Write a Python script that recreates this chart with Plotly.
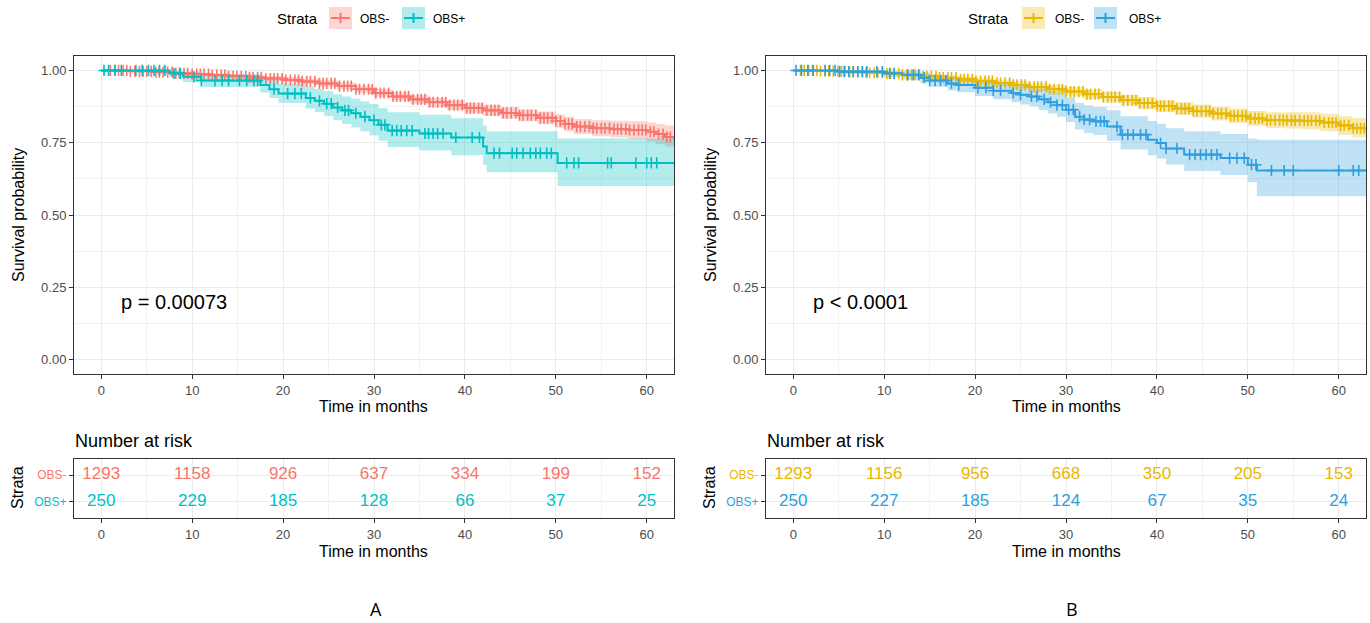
import numpy as np
import plotly.graph_objects as go

W, H = 1370, 623

# ---------------- data ----------------
# Panel A
A_neg_t = [0, 3, 6, 8, 10, 12, 14, 16, 18, 20, 22, 24, 26, 28, 30, 32, 34, 36, 38, 40, 42, 44, 46, 48, 50, 51, 52, 54, 56, 58, 60, 61, 62, 63]
A_neg_s = [1.0, 0.997, 0.994, 0.99, 0.987, 0.984, 0.98, 0.976, 0.972, 0.967, 0.962, 0.955, 0.946, 0.935, 0.922, 0.91, 0.9, 0.89, 0.88, 0.87, 0.862, 0.853, 0.845, 0.836, 0.825, 0.815, 0.806, 0.80, 0.797, 0.794, 0.788, 0.78, 0.77, 0.76]
A_neg_lo = [1.0, 0.994, 0.990, 0.985, 0.981, 0.977, 0.973, 0.968, 0.963, 0.958, 0.952, 0.944, 0.935, 0.923, 0.909, 0.896, 0.885, 0.874, 0.863, 0.852, 0.843, 0.833, 0.824, 0.814, 0.802, 0.79, 0.78, 0.772, 0.768, 0.763, 0.755, 0.745, 0.737, 0.73]
A_neg_hi = [1.0, 1.0, 0.998, 0.995, 0.993, 0.991, 0.987, 0.984, 0.981, 0.977, 0.972, 0.966, 0.958, 0.947, 0.935, 0.924, 0.915, 0.906, 0.897, 0.888, 0.881, 0.873, 0.866, 0.858, 0.848, 0.84, 0.832, 0.828, 0.826, 0.824, 0.82, 0.815, 0.81, 0.805]
A_neg_cens = [1.0, 1.5, 1.9, 2.4, 2.8, 3.2, 3.7, 4.2, 4.6, 5.0, 5.5, 6.0, 6.4, 6.8, 7.3, 7.8, 8.2, 8.6, 9.1, 9.5, 10.0, 10.5, 10.9, 11.3, 11.8, 12.2, 12.7, 13.2, 13.6, 14.0, 14.5, 14.9, 15.4, 15.9, 16.3, 16.7, 17.2, 17.6, 18.1, 18.6, 19.0, 19.4, 19.9, 20.3, 20.8, 21.3, 21.7, 22.1, 22.6, 23.0, 23.5, 24.0, 24.4, 24.8, 25.3, 25.7, 26.2, 26.7, 27.1, 27.5, 28.0, 28.4, 28.9, 29.4, 29.8, 30.2, 30.7, 31.1, 31.6, 32.1, 32.5, 32.9, 33.4, 33.8, 34.3, 34.8, 35.2, 35.6, 36.1, 36.5, 37.0, 37.5, 37.9, 38.3, 38.8, 39.2, 39.7, 40.2, 40.6, 41.0, 41.5, 41.9, 42.4, 42.9, 43.3, 43.7, 44.2, 44.6, 45.1, 45.6, 46.0, 46.4, 46.9, 47.3, 47.8, 48.3, 48.7, 49.1, 49.6, 50.0, 50.5, 51.0, 51.4, 51.8, 52.3, 52.7, 53.2, 53.7, 54.1, 54.5, 55.0, 55.4, 55.9, 56.4, 56.8, 57.2, 57.7, 58.1, 58.6, 59.1, 59.5, 59.9, 60.4, 60.8, 61.3, 61.8, 62.2, 62.6]

A_pos_t = [0, 7.5, 9, 11, 17.5, 18.5, 19.5, 22.5, 23.5, 24.5, 25.5, 26.5, 27.5, 28.5, 29.5, 30.5, 31.5, 35, 38.5, 42.0, 42.4, 50.2, 63]
A_pos_s = [1.0, 0.99, 0.978, 0.965, 0.95, 0.935, 0.92, 0.905, 0.895, 0.885, 0.872, 0.862, 0.852, 0.84, 0.828, 0.812, 0.792, 0.782, 0.768, 0.737, 0.714, 0.68, 0.68]
A_pos_lo = [1.0, 0.978, 0.96, 0.943, 0.924, 0.905, 0.887, 0.868, 0.856, 0.843, 0.828, 0.815, 0.803, 0.789, 0.775, 0.757, 0.735, 0.723, 0.707, 0.674, 0.648, 0.6, 0.6]
A_pos_hi = [1.0, 1.0, 0.996, 0.988, 0.977, 0.966, 0.955, 0.944, 0.936, 0.928, 0.918, 0.91, 0.902, 0.893, 0.884, 0.87, 0.855, 0.847, 0.835, 0.81, 0.79, 0.765, 0.765]
A_pos_cens = [0.3, 0.8, 1.5, 2.2, 3.8, 4.5, 5.2, 5.8, 6.4, 7.0, 8.0, 8.7, 10.2, 11.0, 12.5, 13.3, 14.0, 15.2, 16.0, 16.8, 17.2, 19.0, 20.5, 21.3, 22.0, 23.0, 24.0, 24.8, 25.3, 26.0, 26.8, 27.2, 28.0, 29.0, 30.0, 30.8, 31.2, 32.0, 32.5, 33.0, 33.6, 34.2, 35.6, 36.0, 36.5, 37.0, 37.6, 39.0, 40.8, 41.6, 43.2, 43.8, 45.2, 45.7, 46.4, 47.2, 47.8, 48.3, 49.0, 49.5, 51.2, 52.0, 52.5, 55.7, 56.1, 58.8, 60.0, 60.5, 61.1]

# Panel B
B_neg_t = [0, 3, 6, 8, 10, 12, 14, 16, 18, 20, 22, 24, 26, 28, 30, 32, 34, 36, 38, 40, 42, 44, 46, 48, 50, 52, 54, 56, 58, 60, 61.5, 63]
B_neg_s = [1.0, 0.998, 0.995, 0.992, 0.989, 0.985, 0.98, 0.975, 0.969, 0.963, 0.957, 0.95, 0.943, 0.935, 0.927, 0.918, 0.908, 0.897, 0.887, 0.877, 0.868, 0.859, 0.851, 0.843, 0.834, 0.828, 0.827, 0.826, 0.82, 0.81, 0.8, 0.795]
B_neg_lo = [1.0, 0.996, 0.991, 0.987, 0.983, 0.978, 0.972, 0.966, 0.959, 0.952, 0.945, 0.937, 0.929, 0.92, 0.911, 0.901, 0.89, 0.878, 0.867, 0.856, 0.846, 0.836, 0.827, 0.818, 0.808, 0.801, 0.799, 0.797, 0.79, 0.778, 0.768, 0.762]
B_neg_hi = [1.0, 1.0, 0.999, 0.997, 0.995, 0.992, 0.988, 0.984, 0.979, 0.974, 0.969, 0.963, 0.957, 0.95, 0.943, 0.935, 0.926, 0.916, 0.907, 0.898, 0.89, 0.882, 0.875, 0.868, 0.86, 0.855, 0.855, 0.855, 0.85, 0.842, 0.836, 0.834]
B_neg_cens = [0.8, 1.2, 1.7, 2.1, 2.6, 3.0, 3.5, 3.9, 4.4, 4.9, 5.3, 5.7, 6.2, 6.6, 7.1, 7.6, 8.0, 8.4, 8.9, 9.3, 9.8, 10.3, 10.7, 11.1, 11.6, 12.0, 12.5, 13.0, 13.4, 13.8, 14.3, 14.7, 15.2, 15.7, 16.1, 16.5, 17.0, 17.4, 17.9, 18.4, 18.8, 19.2, 19.7, 20.1, 20.6, 21.1, 21.5, 21.9, 22.4, 22.8, 23.3, 23.8, 24.2, 24.6, 25.1, 25.5, 26.0, 26.5, 26.9, 27.3, 27.8, 28.2, 28.7, 29.2, 29.6, 30.0, 30.5, 30.9, 31.4, 31.9, 32.3, 32.7, 33.2, 33.6, 34.1, 34.6, 35.0, 35.4, 35.9, 36.3, 36.8, 37.3, 37.7, 38.1, 38.6, 39.0, 39.5, 40.0, 40.4, 40.8, 41.3, 41.7, 42.2, 42.7, 43.1, 43.5, 44.0, 44.4, 44.9, 45.4, 45.8, 46.2, 46.7, 47.1, 47.6, 48.1, 48.5, 48.9, 49.4, 49.8, 50.3, 50.8, 51.2, 51.6, 52.1, 52.5, 53.0, 53.5, 53.9, 54.3, 54.8, 55.2, 55.7, 56.2, 56.6, 57.0, 57.5, 57.9, 58.4, 58.9, 59.3, 59.7, 60.2, 60.6, 61.1, 61.6, 62.0, 62.4, 62.8]

B_pos_t = [0, 5, 10, 12, 14, 15, 17, 18, 20, 22, 24, 25, 26, 27, 28, 29, 30, 31, 32, 33, 34.5, 36, 39, 40, 41, 43, 47, 50, 51, 63]
B_pos_s = [1.0, 0.996, 0.99, 0.985, 0.975, 0.965, 0.955, 0.95, 0.94, 0.93, 0.922, 0.916, 0.91, 0.9, 0.89, 0.88, 0.864, 0.84, 0.83, 0.824, 0.806, 0.778, 0.76, 0.749, 0.73, 0.709, 0.697, 0.674, 0.654, 0.654]
B_pos_lo = [1.0, 0.988, 0.977, 0.969, 0.956, 0.944, 0.931, 0.925, 0.912, 0.9, 0.89, 0.882, 0.875, 0.863, 0.851, 0.84, 0.822, 0.796, 0.784, 0.777, 0.757, 0.727, 0.707, 0.695, 0.675, 0.652, 0.638, 0.613, 0.565, 0.565]
B_pos_hi = [1.0, 1.0, 1.0, 0.999, 0.993, 0.985, 0.978, 0.975, 0.968, 0.96, 0.954, 0.95, 0.945, 0.937, 0.929, 0.921, 0.907, 0.887, 0.879, 0.874, 0.862, 0.842, 0.825, 0.816, 0.8, 0.79, 0.78, 0.765, 0.76, 0.76]
B_pos_cens = [0.3, 0.9, 1.6, 2.2, 3.5, 4.0, 4.6, 5.1, 5.6, 6.1, 6.6, 7.1, 7.6, 8.1, 9.2, 9.8, 10.6, 11.1, 12.6, 13.2, 13.8, 14.4, 15.0, 15.6, 16.2, 16.8, 17.4, 18.2, 20.3, 21.2, 22.0, 22.8, 24.2, 25.0, 26.2, 26.8, 27.6, 28.3, 29.0, 29.6, 30.3, 30.8, 31.5, 32.0, 32.6, 33.3, 33.8, 34.2, 35.6, 36.2, 36.8, 37.4, 38.2, 38.8, 40.4, 41.0, 42.2, 43.6, 44.2, 44.8, 45.4, 46.0, 46.6, 48.0, 48.8, 49.6, 50.4, 50.9, 52.6, 54.0, 55.0, 60.0, 61.6, 62.2]

# Number at risk
risk_times = [0, 10, 20, 30, 40, 50, 60]
A_risk_neg = [1293, 1158, 926, 637, 334, 199, 152]
A_risk_pos = [250, 229, 185, 128, 66, 37, 25]
B_risk_neg = [1293, 1156, 956, 668, 350, 205, 153]
B_risk_pos = [250, 227, 185, 124, 67, 35, 24]

strata = ["OBS-", "OBS+"]
x_ticks = [0, 10, 20, 30, 40, 50, 60]
y_ticks = [0, 0.25, 0.5, 0.75, 1.0]

# ---------------- styles ----------------
RED, TEAL = "#F8766D", "#00BFC4"
YEL, BLUE = "#E7B800", "#2E9FDF"
def rgba(hexc, a):
    hexc = hexc.lstrip("#")
    r, g, b = int(hexc[0:2], 16), int(hexc[2:4], 16), int(hexc[4:6], 16)
    return f"rgba({r},{g},{b},{a})"

FONT = "Liberation Sans, Arial, sans-serif"

def px(x):
    return x / W
def py(y):
    return 1 - y / H

fig = go.Figure()

def add_group(t, s, lo, hi, cens, color, xa, ya):
    fig.add_trace(go.Scatter(x=t, y=hi, mode="lines", line=dict(width=0, shape="hv"),
                             xaxis=xa, yaxis=ya, showlegend=False, hoverinfo="skip"))
    fig.add_trace(go.Scatter(x=t, y=lo, mode="lines", line=dict(width=0, shape="hv"),
                             fill="tonexty", fillcolor=rgba(color, 0.3),
                             xaxis=xa, yaxis=ya, showlegend=False, hoverinfo="skip"))

def add_line(t, s, cens, color, xa, ya):
    fig.add_trace(go.Scatter(x=t, y=s, mode="lines", line=dict(width=2, color=color, shape="hv"),
                             xaxis=xa, yaxis=ya, showlegend=False))
    ta = np.array(t)
    idx = np.searchsorted(ta, np.array(cens), side="right") - 1
    cy = np.array(s)[idx]
    fig.add_trace(go.Scatter(x=cens, y=cy, mode="markers",
                             marker=dict(symbol="cross-thin", size=8, color=color,
                                         line=dict(width=1.6, color=color)),
                             xaxis=xa, yaxis=ya, showlegend=False))

# panel A
add_group(A_neg_t, A_neg_s, A_neg_lo, A_neg_hi, A_neg_cens, RED, "x", "y")
add_group(A_pos_t, A_pos_s, A_pos_lo, A_pos_hi, A_pos_cens, TEAL, "x", "y")
add_line(A_neg_t, A_neg_s, A_neg_cens, RED, "x", "y")
add_line(A_pos_t, A_pos_s, A_pos_cens, TEAL, "x", "y")
# panel B
add_group(B_neg_t, B_neg_s, B_neg_lo, B_neg_hi, B_neg_cens, YEL, "x3", "y3")
add_group(B_pos_t, B_pos_s, B_pos_lo, B_pos_hi, B_pos_cens, BLUE, "x3", "y3")
add_line(B_neg_t, B_neg_s, B_neg_cens, YEL, "x3", "y3")
add_line(B_pos_t, B_pos_s, B_pos_cens, BLUE, "x3", "y3")

# risk tables
for vals, row, color, xa, ya in [
    (A_risk_neg, 2, RED, "x2", "y2"), (A_risk_pos, 1, TEAL, "x2", "y2"),
    (B_risk_neg, 2, YEL, "x4", "y4"), (B_risk_pos, 1, BLUE, "x4", "y4")]:
    fig.add_trace(go.Scatter(x=risk_times, y=[row] * len(risk_times), mode="text",
                             text=[str(v) for v in vals],
                             textfont=dict(size=17, color=color, family=FONT),
                             textposition="middle center",
                             xaxis=xa, yaxis=ya, showlegend=False))

# ---------------- axes ----------------
A_X = [px(74), px(674)]
B_X = [px(766), px(1366)]
MAIN_Y = [py(374), py(56)]
RISK_Y = [py(518), py(459)]

common = dict(showline=True, mirror=True, linecolor="#333333", linewidth=1,
              ticks="outside", ticklen=4, tickcolor="#333333", tickwidth=1,
              tickfont=dict(size=13, color="#4D4D4D", family=FONT),
              showgrid=True, gridcolor="#EBEBEB", gridwidth=1, zeroline=False)

def xax(domain, anchor):
    return dict(common, domain=domain, anchor=anchor, range=[-3, 63],
                tickmode="array", tickvals=x_ticks, ticktext=[str(v) for v in x_ticks],
                minor=dict(dtick=5, tick0=0, showgrid=True, gridcolor="#F2F2F2", gridwidth=0.6))

def ymain(domain, anchor):
    return dict(common, domain=domain, anchor=anchor, range=[-0.05, 1.05],
                tickmode="array", tickvals=y_ticks, ticktext=[f"{v:.2f}" for v in y_ticks],
                minor=dict(dtick=0.125, tick0=0, showgrid=True, gridcolor="#F2F2F2", gridwidth=0.6))

def yrisk(domain, anchor, c1, c2):
    return dict(common, domain=domain, anchor=anchor, range=[0.4, 2.6],
                tickmode="array", tickvals=[2, 1],
                ticktext=[f"<span style='color:{c1}'>{strata[0]}</span>",
                          f"<span style='color:{c2}'>{strata[1]}</span>"],
                tickfont=dict(size=12, family=FONT))

fig.update_layout(
    width=W, height=H, margin=dict(l=0, r=0, t=0, b=0),
    paper_bgcolor="white", plot_bgcolor="white",
    font=dict(family=FONT),
    xaxis=xax(A_X, "y"), yaxis=ymain(MAIN_Y, "x"),
    xaxis2=xax(A_X, "y2"), yaxis2=yrisk(RISK_Y, "x2", RED, TEAL),
    xaxis3=xax(B_X, "y3"), yaxis3=ymain(MAIN_Y, "x3"),
    xaxis4=xax(B_X, "y4"), yaxis4=yrisk(RISK_Y, "x4", YEL, BLUE),
)

ann = []
shapes = []
def text(x, y, s, size, color="black", xanchor="center", angle=0, family=FONT):
    ann.append(dict(x=px(x), y=py(y), xref="paper", yref="paper", text=s, showarrow=False,
                    xanchor=xanchor, yanchor="middle", textangle=angle,
                    font=dict(size=size, color=color, family=family)))

for (x0, x1, xtick0, c1, c2, pv, lab, labx, leg) in [
        (74, 674, "x", RED, TEAL, "p = 0.00073", "A", 376, (320, 329, 358, 402, 431)),
        (766, 1366, "x3", YEL, BLUE, "p < 0.0001", "B", 1072, (1011, 1022, 1053, 1094, 1127))]:
    xc = (x0 + x1) / 2
    text(xc, 406, "Time in months", 16)
    text(xc, 551, "Time in months", 16)
    text(x0 - 56, 215, "Survival probability", 16, angle=-90)
    text(x0 - 56, 488, "Strata", 16, angle=-90)
    ann.append(dict(x=px(x0 - 1), y=py(441), xref="paper", yref="paper", text="Number at risk",
                    showarrow=False, xanchor="left", yanchor="middle",
                    font=dict(size=18, color="black", family=FONT)))
    ann.append(dict(x=1.9, y=0.2, xref=xtick0, yref="y" if xtick0 == "x" else "y3", text=pv,
                    showarrow=False, xanchor="left", yanchor="middle",
                    font=dict(size=20, color="black", family=FONT)))
    text(labx, 609, lab, 18, family="Open Sans, Liberation Sans, sans-serif")
    t_end, k1, l1, k2, l2 = leg
    ann.append(dict(x=px(t_end), y=py(19), xref="paper", yref="paper", text="Strata",
                    showarrow=False, xanchor="right", yanchor="middle",
                    font=dict(size=15, color="black", family=FONT)))
    for kx, lx, col, name in [(k1, l1, c1, strata[0]), (k2, l2, c2, strata[1])]:
        shapes.append(dict(type="rect", xref="paper", yref="paper",
                           x0=px(kx), x1=px(kx + 23), y0=py(29), y1=py(7),
                           fillcolor=rgba(col, 0.3), line=dict(width=0)))
        shapes.append(dict(type="line", xref="paper", yref="paper",
                           x0=px(kx + 2), x1=px(kx + 21), y0=py(18), y1=py(18),
                           line=dict(color=col, width=2)))
        shapes.append(dict(type="line", xref="paper", yref="paper",
                           x0=px(kx + 11.5), x1=px(kx + 11.5), y0=py(13), y1=py(23),
                           line=dict(color=col, width=2)))
        ann.append(dict(x=px(lx), y=py(19), xref="paper", yref="paper", text=name,
                        showarrow=False, xanchor="left", yanchor="middle",
                        font=dict(size=12, color="black", family=FONT)))

fig.update_layout(annotations=ann, shapes=shapes)

fig.write_html("out.html", config={"displayModeBar": False},
               post_script="document.body.style.margin='0';")
